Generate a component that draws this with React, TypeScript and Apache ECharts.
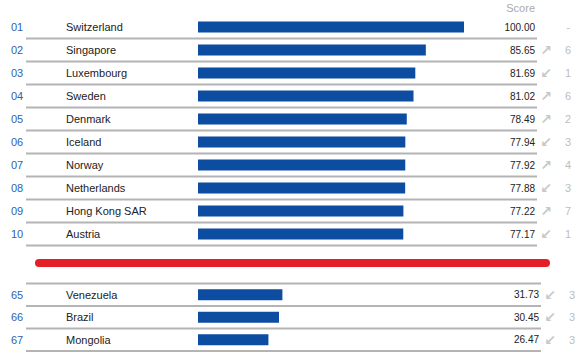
import React, { useEffect, useRef } from "react";
import * as echarts from "echarts";

const topRanks = ["01", "02", "03", "04", "05", "06", "07", "08", "09", "10"];
const topCountries = ["Switzerland", "Singapore", "Luxembourg", "Sweden", "Denmark", "Iceland", "Norway", "Netherlands", "Hong Kong SAR", "Austria"];
const topScores = [100.0, 85.65, 81.69, 81.02, 78.49, 77.94, 77.92, 77.88, 77.22, 77.17];
const topDirs = ["", "up", "down", "up", "up", "down", "up", "down", "up", "down"];
const topChanges = ["-", "6", "1", "6", "2", "3", "4", "3", "7", "1"];

const botRanks = ["65", "66", "67"];
const botCountries = ["Venezuela", "Brazil", "Mongolia"];
const botScores = [31.73, 30.45, 26.47];
const botDirs = ["down", "down", "down"];
const botChanges = ["3", "3", "3"];

const FONT = "Arial, 'Liberation Sans', Helvetica, sans-serif";
const BAR_COLOR = "#0c4da2";
const LINE_COLOR = "#b4b4b4";

// layout: value 0 at x=198, value 100 at x=464
const ZERO_X = 198;
const PX_PER_UNIT = (464 - 198) / 100;

function xRange(left: number, right: number) {
  return {
    min: -(ZERO_X - left) / PX_PER_UNIT,
    max: (right - ZERO_X) / PX_PER_UNIT,
  };
}

const arrow = (d: string) => (d === "up" ? "↗" : d === "down" ? "↙" : "");

function sepSeries(n: number, xi: number, yi: number, withTop: boolean) {
  return {
    type: "custom",
    xAxisIndex: xi,
    yAxisIndex: yi,
    silent: true,
    z: 1,
    data: Array.from({ length: n }, (_, i) => [0, i]),
    encode: { x: 0, y: 1 },
    renderItem: (params: any, api: any) => {
      const idx = api.value(1);
      const p = api.coord([0, idx]);
      const h = api.size([0, 1])[1];
      const cs = params.coordSys;
      const children: any[] = [
        {
          type: "line",
          shape: { x1: cs.x, y1: p[1] + h / 2, x2: cs.x + cs.width, y2: p[1] + h / 2 },
          style: { stroke: LINE_COLOR, lineWidth: 2 },
        },
      ];
      if (withTop && idx === 0) {
        children.push({
          type: "line",
          shape: { x1: cs.x, y1: p[1] - h / 2, x2: cs.x + cs.width, y2: p[1] - h / 2 },
          style: { stroke: LINE_COLOR, lineWidth: 2 },
        });
      }
      return { type: "group", children };
    },
  };
}

function leftAxis(gridIndex: number, cats: string[], ranks: string[]) {
  return {
    type: "category",
    gridIndex,
    inverse: true,
    data: cats,
    position: "left",
    axisLine: { show: false },
    axisTick: { show: false },
    splitLine: { show: false },
    axisLabel: {
      align: "left",
      margin: 15,
      formatter: (v: string, i: number) => `{r|${ranks[i]}}{n|${v}}`,
      rich: {
        r: { width: 55, color: "#2f62ab", fontSize: 11, fontFamily: FONT },
        n: { color: "#222222", fontSize: 11, fontFamily: FONT },
      },
    },
  };
}

function rightAxis(gridIndex: number, cats: string[], scores: number[], dirs: string[], changes: string[]) {
  return {
    type: "category",
    gridIndex,
    inverse: true,
    data: cats,
    position: "right",
    axisLine: { show: false },
    axisTick: { show: false },
    splitLine: { show: false },
    axisLabel: {
      align: "right",
      margin: 42,
      formatter: (_v: string, i: number) =>
        `{s|${scores[i].toFixed(2)}}{a|${arrow(dirs[i]) || " "}}{c|${changes[i]}}`,
      rich: {
        s: { color: "#222222", fontSize: 10, fontFamily: FONT },
        a: {
          width: 22,
          align: "center",
          color: "#c8c8c8",
          fontSize: 14,
          fontWeight: "bold",
          fontFamily: "'DejaVu Sans', sans-serif",
        },
        c: { width: 22, align: "center", color: "#bdbdbd", fontSize: 11, fontFamily: FONT },
      },
    },
  };
}

export default function App() {
  const ref = useRef<HTMLDivElement>(null);
  useEffect(() => {
    if (!ref.current) return;
    const chart = echarts.init(ref.current, undefined, { renderer: "svg" });
    const r1 = xRange(26, 537);
    const r2 = xRange(26, 541);
    chart.setOption({
      animation: false,
      title: {
        text: "Score",
        right: 52,
        top: 2,
        padding: 0,
        textStyle: { fontSize: 11, color: "#aaaaaa", fontWeight: "normal", fontFamily: FONT },
      },
      grid: [
        { left: 26, right: 587 - 537, top: 15.5, height: 230 },
        { left: 26, right: 587 - 541, top: 283.5, height: 67.5 },
      ],
      xAxis: [
        { type: "value", gridIndex: 0, min: r1.min, max: r1.max, show: false },
        { type: "value", gridIndex: 1, min: r2.min, max: r2.max, show: false },
      ],
      yAxis: [
        leftAxis(0, topCountries, topRanks),
        rightAxis(0, topCountries, topScores, topDirs, topChanges),
        leftAxis(1, botCountries, botRanks),
        rightAxis(1, botCountries, botScores, botDirs, botChanges),
      ],
      graphic: [
        {
          type: "rect",
          shape: { x: 35, y: 259, width: 515, height: 8, r: 4 },
          style: { fill: "#e41f28" },
        },
      ],
      series: [
        sepSeries(topCountries.length, 0, 0, false),
        sepSeries(botCountries.length, 1, 2, true),
        {
          type: "bar",
          xAxisIndex: 0,
          yAxisIndex: 0,
          data: topScores,
          barWidth: 11,
          itemStyle: { color: BAR_COLOR },
          z: 2,
        },
        {
          type: "bar",
          xAxisIndex: 1,
          yAxisIndex: 2,
          data: botScores,
          barWidth: 11,
          itemStyle: { color: BAR_COLOR },
          z: 2,
        },
      ],
    });
    return () => chart.dispose();
  }, []);
  return (
    <div
      ref={ref}
      style={{ position: "absolute", left: 0, top: 0, width: 587, height: 361, background: "#ffffff" }}
    />
  );
}
